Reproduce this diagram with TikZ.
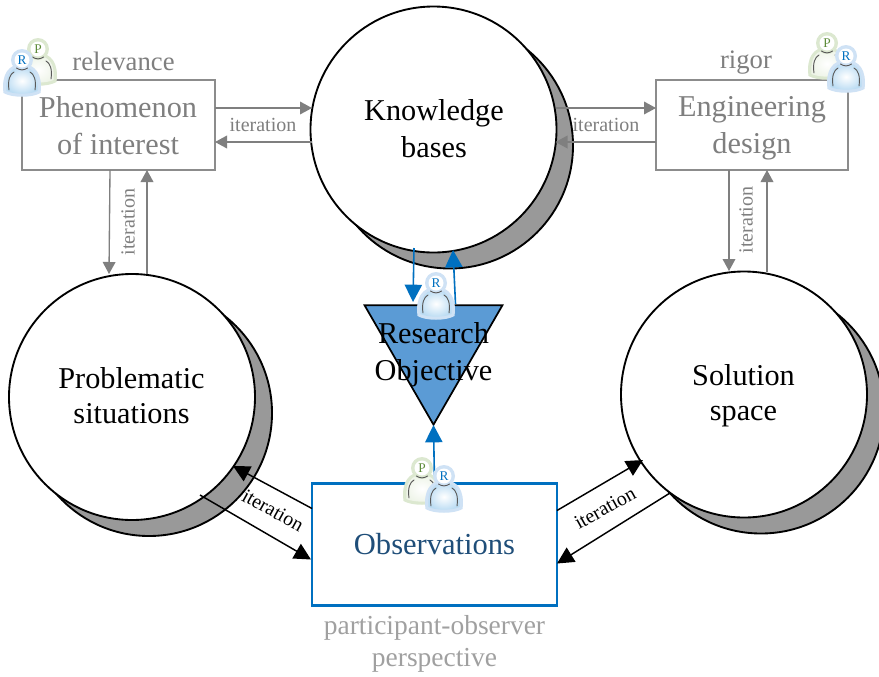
\documentclass[tikz,border=0pt]{standalone}
\usepackage{fontspec}
\setmainfont{Liberation Serif}
\usetikzlibrary{arrows.meta,calc,shapes.geometric}
\definecolor{gry}{HTML}{7F7F7F}
\definecolor{lgry}{HTML}{A0A0A0}
\definecolor{blu}{HTML}{0070C0}
\definecolor{tri}{HTML}{5B9BD5}
\definecolor{dblu}{HTML}{1F4E79}
\definecolor{shad}{HTML}{999999}
\definecolor{rhalo}{HTML}{CFE2F5}
\definecolor{rmid}{HTML}{BBDCF3}
\definecolor{phalo}{HTML}{DCE8D0}
\definecolor{pmid}{HTML}{EEF4E8}
\definecolor{pltr}{HTML}{5E8C3A}
\newcommand{\person}[7]{%
 \begin{scope}[shift={(#1,#2)}]
  \fill[#5] (-18.5,33) .. controls (-21,14) and (-13,4) .. (0,4) .. controls (13,4) and (21,14) .. (18.5,33) .. controls (10,38) and (-10,38) .. cycle;
  \shade[inner color=white,outer color=#6] (-15.5,31) .. controls (-17,15) and (-11,7) .. (0,7) .. controls (11,7) and (17,15) .. (15.5,31) .. controls (8,34.5) and (-8,34.5) .. cycle;
  \fill[#5] (0,0) circle[radius=11];
  \fill[white] (0,0) circle[radius=7.5];
  \draw[line width=.7pt,black!65,line cap=round] (-13,30) .. controls (-14.5,20) and (-12,14) .. (-8,12);
  \draw[line width=.7pt,black!65,line cap=round] (13,30) .. controls (14.5,20) and (12,14) .. (8,12);
  \draw[line width=.7pt,black!65,line cap=round] (-5.5,8) .. controls (-2,10.5) and (2,10.5) .. (5.5,8);
  \node[text=#7,font=\fontsize{10}{10}\selectfont,inner sep=0pt] (#4) at (0,0) {#3};
 \end{scope}}
\tikzset{
 x=0.75pt,y=-0.75pt,
 txtA/.style={font=\fontsize{22.7}{27.75}\selectfont,align=center,inner sep=0pt},
 txtB/.style={font=\fontsize{22.7}{26.25}\selectfont,align=center,inner sep=0pt},
 circ/.style={circle,draw=black,line width=1.4pt,fill=white,minimum size=184.5pt,inner sep=0pt,outer sep=0pt},
 shadc/.style={circle,draw=black,line width=1.4pt,fill=shad,minimum size=184.5pt,inner sep=0pt,outer sep=0pt},
 greybox/.style={rectangle,draw=gry!90,line width=1.5pt,fill=white,inner sep=0pt,outer sep=0pt,minimum width=144.5pt,minimum height=67.5pt},
 greyarr/.style={draw=gry,line width=1pt,-{Triangle[length=9pt,width=9.5pt]}},
 bluarr/.style={draw=blu,line width=1.2pt,-{Triangle[length=13pt,width=13pt]}},
 blkarr/.style={draw=black,line width=1.1pt,-{Triangle[length=12.5pt,width=12.5pt]}},
 greylab/.style={text=gry,font=\fontsize{20}{24}\selectfont,inner sep=0pt},
 itergrey/.style={text=gry,font=\fontsize{15}{18}\selectfont,inner sep=0pt},
 iterblack/.style={text=black,font=\fontsize{15}{18}\selectfont,inner sep=0pt},
}
\begin{document}
\begin{tikzpicture}
\useasboundingbox (0,0) rectangle (879,676);
\fill[white] (0,0) rectangle (879,676);
% shadows
\node[shadc] (knowS) at (450,145.5) {};
\node[shadc] (probS) at (149,413) {};
\node[shadc] (soluS) at (761,410.5) {};
% boxes
\node[greybox] (pheno) at (118.5,125) {};
\node[greybox] (engin) at (752,125) {};
\node[txtA,text=gry] (phenoT) at (118,128.5) {\strut Phenomenon\\of interest\strut};
\node[txtA,text=gry] (enginT) at (752,128) {\strut Engineering\\design\strut};
% triangle
\node[regular polygon,regular polygon sides=3,shape border rotate=180,minimum size=119.5pt,inner sep=0pt,outer sep=0pt,draw=black,line width=1.3pt,fill=tri] (triang) at (433.5,345) {};
% main circles
\node[circ] (know) at (433.5,129.5) {};
\node[circ] (prob) at (132,397) {};
\node[circ] (solu) at (744,394.5) {};
\node[txtA] (knowT) at (434,132) {\strut Knowledge\\bases\strut};
\node[txtB] (probT) at (131.5,398.5) {\strut Problematic\\situations\strut};
\node[txtB] (soluT) at (743.5,396) {\strut Solution\\space\strut};
\node[rectangle,draw=blu,line width=1.6pt,fill=white,minimum width=183.75pt,minimum height=91.5pt,inner sep=0pt,outer sep=0pt,text=dblu,font=\fontsize{22.9}{27.75}\selectfont] (obs) at (434.5,544.5) {Observations};
% grey connectors
\draw[greyarr] ($(pheno.center)+(96.5,-17)$) -- ($(know.center)+(-121.5,-21.5)$);
\draw[greyarr] ($(know.center)+(-122,12.5)$) -- ($(pheno.center)+(96.5,17)$);
\draw[greyarr] ($(know.center)+(122,-21.5)$) -- ($(engin.center)+(-96,-17)$);
\draw[greyarr] ($(engin.center)+(-96,17)$) -- ($(know.center)+(122,12.5)$);
\draw[greyarr] ($(pheno.center)+(-8.5,45)$) -- ($(prob.center)+(-23,-123)$);
\draw[greyarr] ($(prob.center)+(15,-123)$) -- ($(pheno.center)+(28.5,45)$);
\draw[greyarr] ($(engin.center)+(-23,45)$) -- ($(solu.center)+(-15,-123.5)$);
\draw[greyarr] ($(solu.center)+(23,-122.5)$) -- ($(engin.center)+(15,45)$);
\node[itergrey] (it1) at (263,125) {iteration};
\node[itergrey] (it2) at (606,125) {iteration};
\node[itergrey,rotate=90] (it3) at (128,222) {iteration};
\node[itergrey,rotate=90] (it4) at (746,220) {iteration};
% blue connectors
\draw[bluarr] ($(know.center)+(-19.5,118.5)$) -- ($(triang.center)+(-20.5,-43)$);
\draw[bluarr] ($(triang.center)+(22,-41)$) -- ($(know.center)+(19.5,120.5)$);
\draw[bluarr] ($(obs.center)+(0,-61)$) -- ($(triang.center)+(0,80)$);
% black connectors
\draw[blkarr] ($(obs.center)+(-122.5,-36)$) -- ($(prob.center)+(101,69)$);
\draw[blkarr] ($(prob.center)+(68,98)$) -- ($(obs.center)+(-123.5,15)$);
\draw[blkarr] ($(obs.center)+(122.5,-34)$) -- ($(solu.center)+(-101,65.5)$);
\draw[blkarr] ($(solu.center)+(-74,98.5)$) -- ($(obs.center)+(122.5,19)$);
\node[iterblack,rotate=-29] (it5) at (273,510.5) {iteration};
\node[iterblack,rotate=29] (it6) at (605,508) {iteration};
% labels
\node[greylab] (rel) at (123.5,61) {relevance};
\node[greylab] (rig) at (746,63) {rigor};
\node[text=lgry,font=\fontsize{20.6}{24}\selectfont,align=center,inner sep=0pt] (pers) at (434.5,644) {participant-observer\\perspective};
\node[txtA] (objtxt) at (433.5,354.5) {\strut Research\\Objective\strut};
% people
\person{38}{49}{P}{pa}{phalo}{pmid}{pltr}
\person{22}{60}{R}{ra}{rhalo}{rmid}{blu}
\person{827}{43}{P}{pb}{phalo}{pmid}{pltr}
\person{846}{56}{R}{rb}{rhalo}{rmid}{blu}
\person{436}{283}{R}{rc}{rhalo}{rmid}{blu}
\person{422}{468}{P}{pd}{phalo}{pmid}{pltr}
\person{444}{476}{R}{rd}{rhalo}{rmid}{blu}
\end{tikzpicture}
\end{document}
